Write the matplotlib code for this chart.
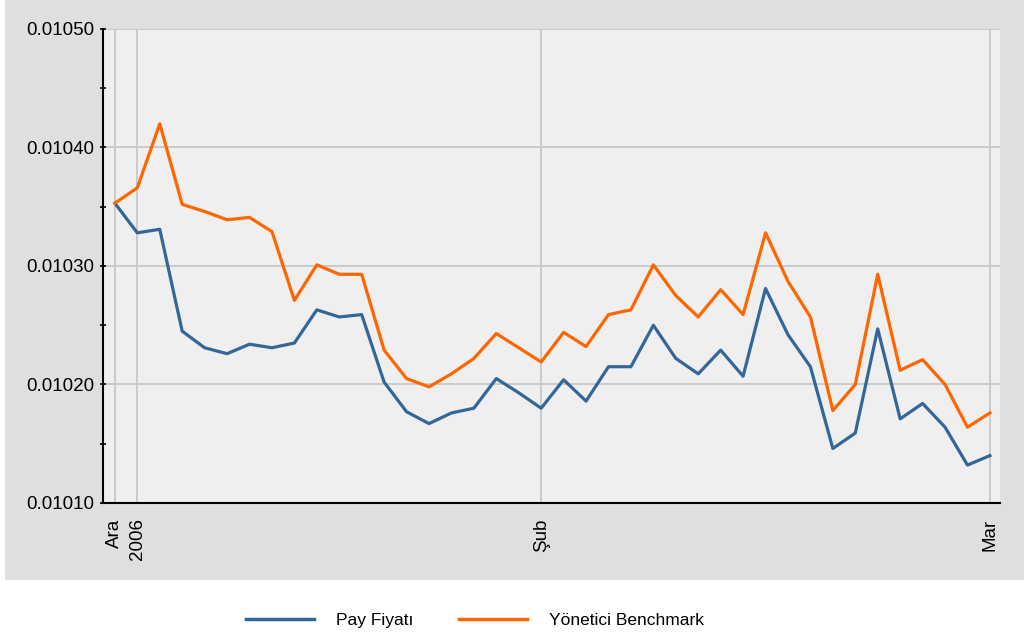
import matplotlib
matplotlib.use("Agg")
import matplotlib.pyplot as plt
from matplotlib.patches import Rectangle
from matplotlib.lines import Line2D
from matplotlib.ticker import MultipleLocator, FormatStrFormatter

# Trading days, 30 Dec 2005 .. 1 Mar 2006 (index on x axis)
pay_fiyati = [
    1035.3, 1032.8, 1033.1, 1024.5, 1023.1, 1022.6, 1023.4, 1023.1, 1023.5, 1026.3,
    1025.7, 1025.9, 1020.2, 1017.7, 1016.7, 1017.6, 1018.0, 1020.5, 1019.3, 1018.0,
    1020.4, 1018.6, 1021.5, 1021.5, 1025.0, 1022.2, 1020.9, 1022.9, 1020.7, 1028.1,
    1024.2, 1021.5, 1014.6, 1015.9, 1024.7, 1017.1, 1018.4, 1016.4, 1013.2, 1014.0,
]
benchmark = [
    1035.3, 1036.6, 1042.0, 1035.2, 1034.6, 1033.9, 1034.1, 1032.9, 1027.1, 1030.1,
    1029.3, 1029.3, 1022.9, 1020.5, 1019.8, 1020.9, 1022.2, 1024.3, 1023.1, 1021.9,
    1024.4, 1023.2, 1025.9, 1026.3, 1030.1, 1027.5, 1025.7, 1028.0, 1025.9, 1032.8,
    1028.7, 1025.7, 1017.8, 1020.0, 1029.3, 1021.2, 1022.1, 1020.0, 1016.4, 1017.6,
]
# values read in units of 1e-5
pay_fiyati = [v * 1e-5 for v in pay_fiyati]
benchmark = [v * 1e-5 for v in benchmark]

tick_idx = [0, 1, 19, 39]
tick_labels = ["Ara", "2006", "Şub", "Mar"]

BLUE = "#336699"
ORANGE = "#ff6600"

plt.rcParams['font.family'] = ['Liberation Sans', 'DejaVu Sans']

fig = plt.figure(figsize=(10.24, 6.37), dpi=100)
fig.patch.set_facecolor("white")
# grey panel behind the chart
fig.add_artist(Rectangle((5 / 1024, 57 / 637), 1 - 5 / 1024, 1 - 57 / 637,
                         transform=fig.transFigure, facecolor="#dfdfdf",
                         edgecolor="none", zorder=-10))

ax = fig.add_axes([103 / 1024, 134 / 637, 897 / 1024, 474 / 637])
ax.set_facecolor("#efefef")

x = list(range(len(pay_fiyati)))
ax.plot(x, pay_fiyati, color=BLUE, lw=2.3, zorder=3)
ax.plot(x, benchmark, color=ORANGE, lw=2.3, zorder=4)

ax.set_xlim(-0.53, 39.45)
ax.set_ylim(0.01010, 0.01050)
ax.yaxis.set_major_locator(MultipleLocator(0.0001))
ax.yaxis.set_minor_locator(MultipleLocator(0.00005))
ax.yaxis.set_major_formatter(FormatStrFormatter('%.5f'))
ax.set_xticks(tick_idx)
ax.set_xticklabels(tick_labels, rotation=90, va='top', ha='center')

ax.tick_params(axis='y', which='both', direction='inout', length=5, width=1.2,
               labelsize=13.5, pad=4, colors='black')
ax.tick_params(axis='x', length=0, labelsize=13.5, pad=11)

ax.grid(True, which='major', color='#c8c8c8', lw=1.3)
ax.set_axisbelow(True)
for s in ['top', 'right']:
    ax.spines[s].set_visible(False)
for s in ['left', 'bottom']:
    ax.spines[s].set_color('black')
    ax.spines[s].set_linewidth(1.5)
    ax.spines[s].set_zorder(5)

handles = [Line2D([], [], color=BLUE, lw=2.5), Line2D([], [], color=ORANGE, lw=2.5)]
fig.legend(handles, ["Pay Fiyatı", "Yönetici Benchmark"], loc='center',
           bbox_to_anchor=(475 / 1024, 17 / 637), ncol=2, frameon=False, fontsize=12.5,
           handlelength=3.9, handletextpad=1.26, columnspacing=2.64)

fig.savefig("out.png", dpi=100, facecolor=fig.get_facecolor())
